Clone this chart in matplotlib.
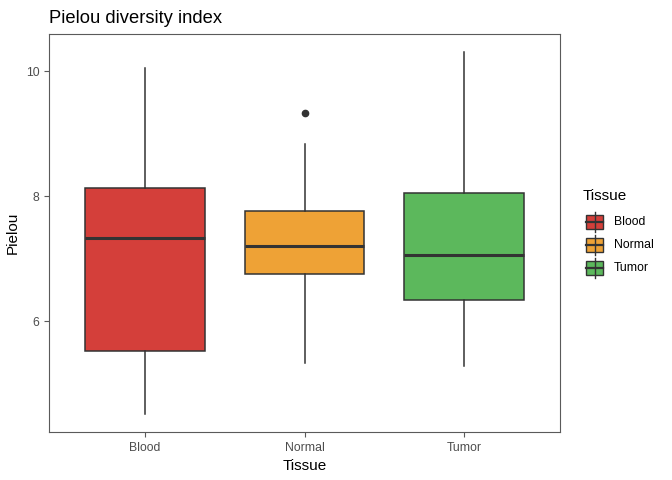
import matplotlib.pyplot as plt
from matplotlib.patches import Rectangle
from matplotlib.lines import Line2D

plt.rcParams["font.family"] = ["Liberation Sans", "DejaVu Sans"]

tissues = ["Blood", "Normal", "Tumor"]
colors = ["#D43F3A", "#EEA236", "#5CB85C"]
whisker_low = [4.52, 5.34, 5.29]
q1 = [5.52, 6.76, 6.35]
medians = [7.34, 7.21, 7.07]
q3 = [8.13, 7.76, 8.06]
whisker_high = [10.05, 8.84, 10.31]
outliers = [[], [9.34], []]

W, H = 672, 480
fig = plt.figure(figsize=(W / 100, H / 100), dpi=100)
ax = fig.add_axes([49 / W, 1 - 432 / H, (560 - 49) / W, (432 - 34) / H])

stats = []
for i, t in enumerate(tissues):
    stats.append({
        "label": t, "whislo": whisker_low[i], "q1": q1[i], "med": medians[i],
        "q3": q3[i], "whishi": whisker_high[i], "fliers": outliers[i],
    })

edge = "#333333"
bp = ax.bxp(
    stats, positions=range(len(tissues)), widths=0.75, patch_artist=True,
    showcaps=False,
    boxprops=dict(edgecolor=edge, linewidth=1.1),
    whiskerprops=dict(color=edge, linewidth=1.1),
    medianprops=dict(color=edge, linewidth=2.2),
    flierprops=dict(marker="o", markerfacecolor=edge, markeredgecolor=edge, markersize=4.5),
)
for patch, c in zip(bp["boxes"], colors):
    patch.set_facecolor(c)

lo = min(whisker_low)
hi = max(whisker_high)
pad = (hi - lo) * 0.05
ax.set_ylim(lo - pad, hi + pad)
ax.set_xlim(-0.6, 2.6)
ax.set_yticks([6, 8, 10])
ax.set_xticks(range(3))
ax.set_xticklabels(tissues)

for s in ax.spines.values():
    s.set_color("#5a5a5a")
    s.set_linewidth(0.8)
ax.tick_params(colors="#5a5a5a", labelcolor="#4D4D4D", labelsize=8.8, length=3.5, width=0.8)

ax.set_xlabel("Tissue", fontsize=11, labelpad=4)
ax.set_ylabel("Pielou", fontsize=11, labelpad=4)
ax.set_title("Pielou diversity index", fontsize=13.2, loc="left", x=0.0, pad=8)

# legend drawn by hand, ggplot style keys
fig.text(583 / W, 1 - 196 / H, "Tissue", fontsize=11, va="center", ha="left")
for i, (t, c) in enumerate(zip(tissues, colors)):
    yc = 222 + i * 23
    x0, x1 = 586, 603
    fig.add_artist(Line2D([(x0 + x1) / 2 / W] * 2, [1 - (yc - 10) / H, 1 - (yc + 10) / H],
                          color=edge, linewidth=1.0))
    fig.add_artist(Rectangle((x0 / W, 1 - (yc + 7) / H), (x1 - x0) / W, 14 / H,
                             facecolor=c, edgecolor=edge, linewidth=1.0))
    fig.add_artist(Line2D([x0 / W, x1 / W], [1 - yc / H] * 2, color=edge, linewidth=1.6))
    fig.text(614 / W, 1 - yc / H, t, fontsize=8.8, va="center", ha="left")

fig.savefig("out.png", dpi=100)
